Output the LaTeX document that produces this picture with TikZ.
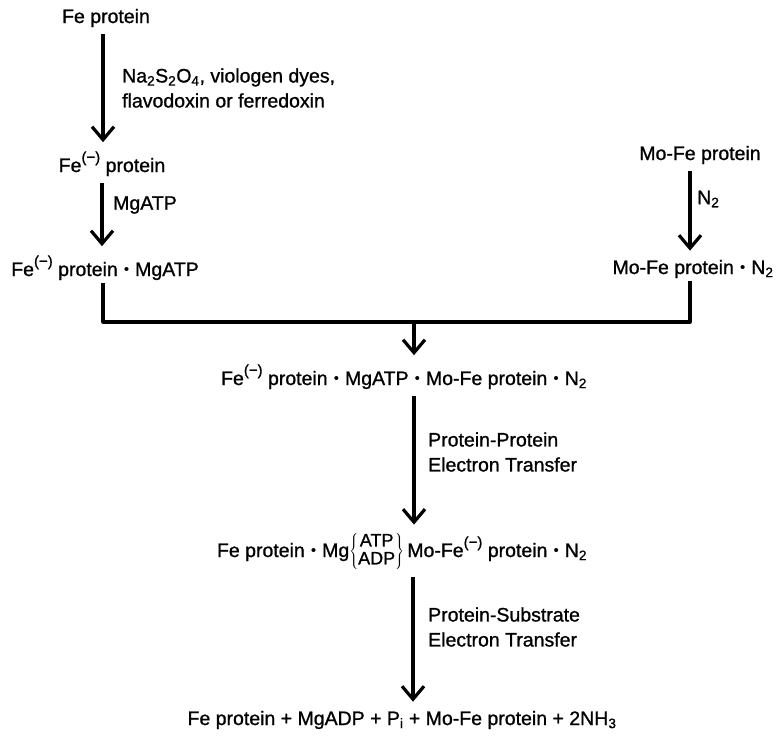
\documentclass[tikz,border=0pt]{standalone}
\usepackage{fontspec}
\setmainfont{Liberation Sans}[FakeBold=1]
\usetikzlibrary{arrows.meta}

% charge mark, centre dot and the ATP/ADP pair
\newcommand{\chg}{\raisebox{0.5em}{\fontsize{15}{15}\selectfont(−)}}
\newcommand{\femin}{Fe\chg}
\newcommand{\bdot}{\hspace{0.32em}\raisebox{0.12em}{\fontsize{14}{14}\selectfont•}\hspace{0.32em}}
\newcommand{\nuc}{$\left\{\vcenter{\hbox{\fontsize{18}{18}\selectfont\begin{tabular}{@{}c@{}}ATP\\ADP\end{tabular}}}\right\}$\,}

\begin{document}
\begin{tikzpicture}[x=1pt, y=-1pt, line join=round, >={Straight Barb[length=13pt,width=22pt]},
	font=\fontsize{19.5}{25}\selectfont]
	\tikzset{
		species/.style={anchor=base, inner sep=3pt},
		agent/.style={anchor=west, align=left, inner sep=0pt},
		step arrow/.style={->, line width=3.2pt},
		joiner/.style={line width=3.2pt}
	}
	\useasboundingbox (0,0) rectangle (783,736);
	%
	% left branch: reduction of the Fe protein
	\node [species] (fe) at (106,23) {Fe protein};
	\node [species] (fered) at (112,172) {\femin{} protein};
	\node [species] (featp) at (105,276) {\femin{} protein\bdot MgATP};
	% right branch: Mo-Fe protein binds N2
	\node [species] (mofe) at (700,160) {Mo-Fe protein};
	\node [species] (mofen) at (693,274) {Mo-Fe protein\bdot N\textsubscript{2}};
	% central route
	\node [species] (cplx) at (404,385) {\femin{} protein\bdot MgATP\bdot Mo-Fe protein\bdot N\textsubscript{2}};
	\node [species] (trans) at (402,557) {Fe protein\bdot Mg\nuc Mo-Fe\chg{} protein\bdot N\textsubscript{2}};
	\node [species] (prod) at (402,725) {Fe protein + MgADP + P\textsubscript{i} + Mo-Fe protein + 2NH\textsubscript{3}};
	%
	\coordinate (c1) at (103,0);
	\coordinate (c2) at (102,0);
	\coordinate (c3) at (690,0);
	\coordinate (jl) at (103,322);
	\coordinate (jr) at (690,322);
	\coordinate (jm) at (414,322);
	\coordinate (c4) at (414,0);
	\coordinate (c5) at (413,0);
	%
	\draw [step arrow, shorten <=4pt, shorten >=6pt] (fe.south -| c1) -- (fered.north -| c1);
	\node [agent] (red) at (122,88) {Na\textsubscript{2}S\textsubscript{2}O\textsubscript{4}, viologen dyes,\\flavodoxin or ferredoxin};
	\draw [step arrow, shorten <=4pt, shorten >=6pt] (fered.south -| c2) -- (featp.north -| c2);
	\node [agent] (atp) at (113,205) {MgATP};
	\draw [step arrow, shorten <=4pt, shorten >=6pt] (mofe.south -| c3) -- (mofen.north -| c3);
	\node [agent] (ntwo) at (697,199) {N\textsubscript{2}};
	%
	\draw [joiner] (featp.south -| jl) -- (jl) -- (jr) -- (mofen.south -| jr);
	\draw [step arrow, shorten >=6pt] (jm) -- (cplx.north -| jm);
	%
	\draw [step arrow, shorten <=4pt, shorten >=6pt] (cplx.south -| c4) -- (trans.north -| c4);
	\node [agent] (ppet) at (428,452) {Protein-Protein\\Electron Transfer};
	\draw [step arrow, shorten <=4pt, shorten >=6pt] (trans.south -| c5) -- (prod.north -| c5);
	\node [agent] (pset) at (428,627) {Protein-Substrate\\Electron Transfer};
\end{tikzpicture}
\end{document}
